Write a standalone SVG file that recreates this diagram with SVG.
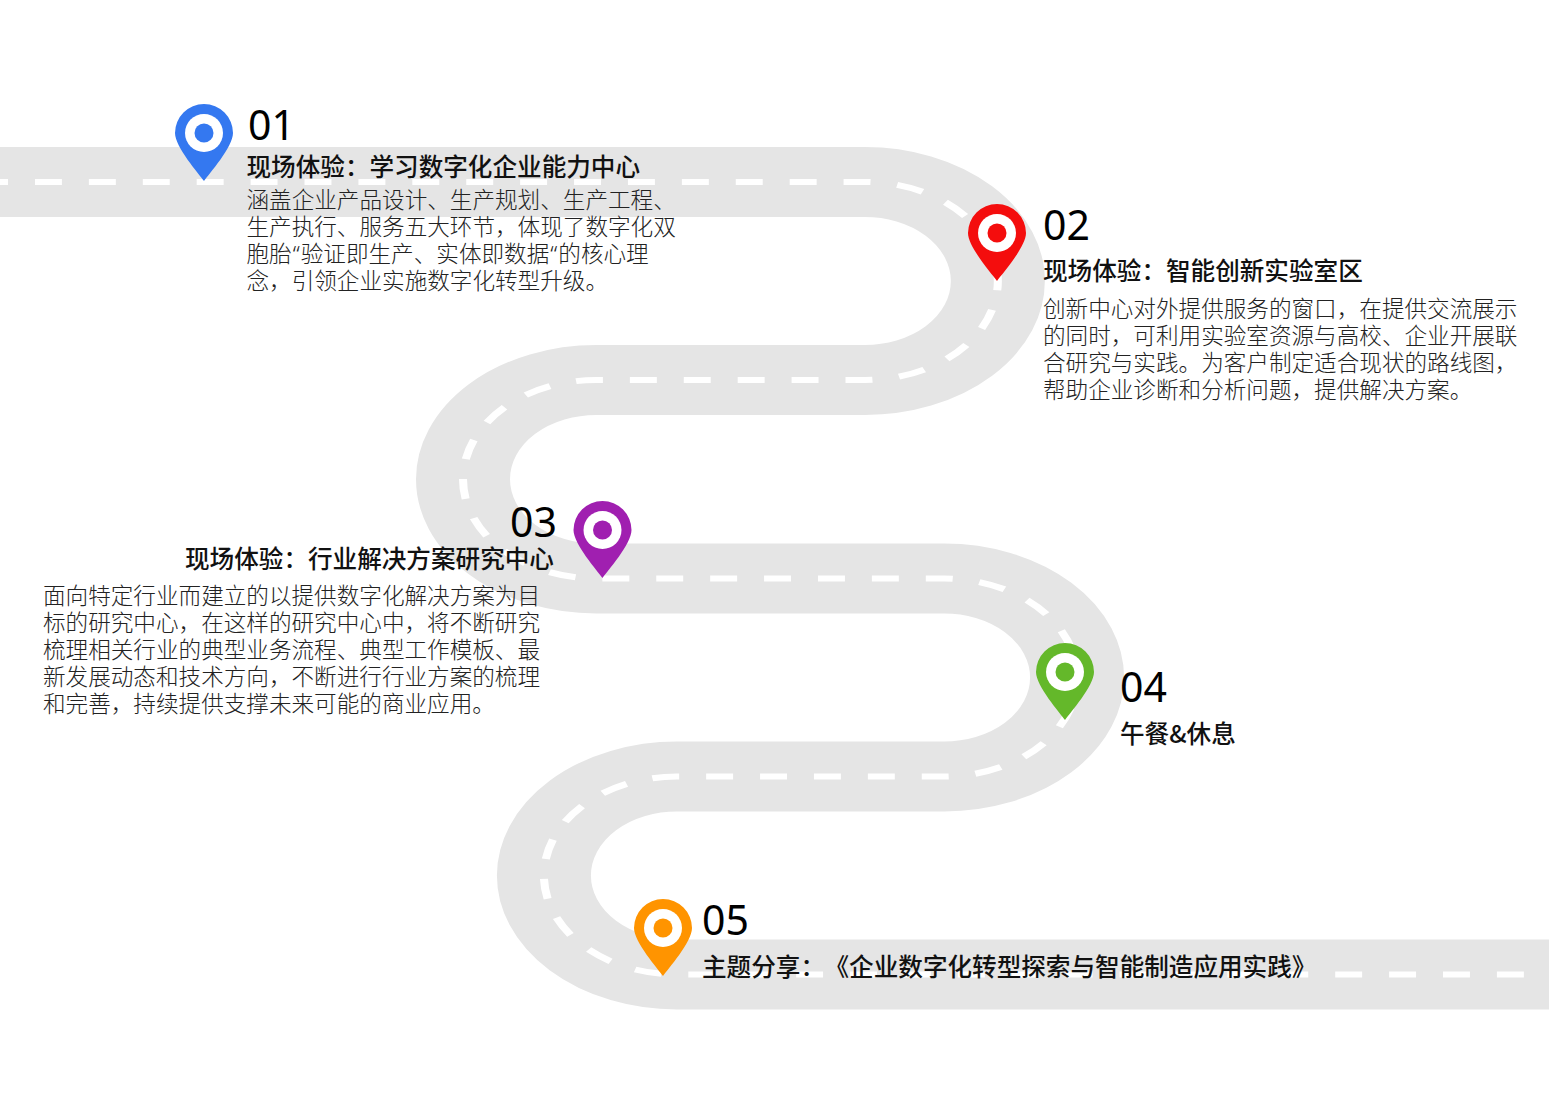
<svg xmlns="http://www.w3.org/2000/svg" width="1549" height="1116" viewBox="0 0 1549 1116">
<style>
text{font-family:"Noto Sans","Noto Sans CJK SC",sans-serif}
.num{font-size:41px;fill:#000}
.title{font-family:"Noto Sans CJK SC",sans-serif;font-size:24.6px;font-weight:500;fill:#111}
.body{font-size:22.6px;font-weight:300;fill:#222}
.road,.dash{fill:none}
.road{stroke:#e5e5e5;stroke-width:70}
.dash{stroke:#fff;stroke-width:6;stroke-dasharray:20.07 20.07;stroke-dashoffset:4.1}
.ring{fill:#fff}
</style>
<defs>
<path id="pinshape" d="M0 48C-5 41-29 14-29 0A29 29 0 0 1 29 0C29 14 5 41 0 48Z"/>
</defs>
<rect width="1549" height="1116" fill="#fff"/>
<g id="connectors" transform="scale(1.343 1)">
<path class="road" d="M-10 182H644A99 99 0 0 1 644 380H444A99 99 0 0 0 444 578.500H703A99 99 0 0 1 703 776.500H504A99 99 0 0 0 504 974.500H1160"/>
<path class="dash" d="M-10 182H644A99 99 0 0 1 644 380H444A99 99 0 0 0 444 578.500H703A99 99 0 0 1 703 776.500H504A99 99 0 0 0 504 974.500H1160"/>
</g>
<g id="node1"><use href="#pinshape" x="204" y="133" fill="#3478f0"/><circle class="ring" cx="204" cy="133" r="19"/><circle cx="204" cy="133" r="9.500" fill="#3478f0"/>
<text class="num" x="248" y="140">01</text>
<text class="title" x="246.500" y="176">现场体验：学习数字化企业能力中心</text>
<text class="body"><tspan x="246.500" y="208">涵盖企业产品设计、生产规划、生产工程、</tspan><tspan x="246.500" y="235">生产执行、服务五大环节，体现了数字化双</tspan><tspan x="246.500" y="262">胞胎<tspan dx="1">“</tspan><tspan dx="1">验证即生产、实体即数据</tspan><tspan dx="1">“</tspan><tspan dx="1">的核心理</tspan></tspan><tspan x="246.500" y="289">念，引领企业实施数字化转型升级。</tspan></text></g>
<g id="node2"><use href="#pinshape" x="997" y="233" fill="#f40d0d"/><circle class="ring" cx="997" cy="233" r="19"/><circle cx="997" cy="233" r="9.500" fill="#f40d0d"/>
<text class="num" x="1043" y="240">02</text>
<text class="title" x="1043" y="280">现场体验：智能创新实验室区</text>
<text class="body"><tspan x="1043" y="317">创新中心对外提供服务的窗口，在提供交流展示</tspan><tspan x="1043" y="344">的同时，可利用实验室资源与高校、企业开展联</tspan><tspan x="1043" y="371">合研究与实践。为客户制定适合现状的路线图，</tspan><tspan x="1043" y="398">帮助企业诊断和分析问题，提供解决方案。</tspan></text></g>
<g id="node3"><use href="#pinshape" x="602.500" y="530" fill="#a01fb0"/><circle class="ring" cx="602.500" cy="530" r="19"/><circle cx="602.500" cy="530" r="9.500" fill="#a01fb0"/>
<text class="num" x="510" y="537">03</text>
<text class="title" x="185" y="568">现场体验：行业解决方案研究中心</text>
<text class="body"><tspan x="43" y="604">面向特定行业而建立的以提供数字化解决方案为目</tspan><tspan x="43" y="631">标的研究中心，在这样的研究中心中，将不断研究</tspan><tspan x="43" y="658">梳理相关行业的典型业务流程、典型工作模板、最</tspan><tspan x="43" y="685">新发展动态和技术方向，不断进行行业方案的梳理</tspan><tspan x="43" y="712">和完善，持续提供支撑未来可能的商业应用。</tspan></text></g>
<g id="node4"><use href="#pinshape" x="1065" y="672" fill="#64b82a"/><circle class="ring" cx="1065" cy="672" r="19"/><circle cx="1065" cy="672" r="9.500" fill="#64b82a"/>
<text class="num" x="1120" y="702">04</text>
<text class="title" x="1120" y="743">午餐&amp;休息</text></g>
<g id="node5"><use href="#pinshape" x="663" y="928" fill="#ff9400"/><circle class="ring" cx="663" cy="928" r="19"/><circle cx="663" cy="928" r="9.500" fill="#ff9400"/>
<text class="num" x="702" y="935">05</text>
<text class="title"><tspan x="702" y="976">主题分享：</tspan><tspan x="824.500" y="976">《企业数字化转型探索与智能制造应用实践》</tspan></text></g>
</svg>
